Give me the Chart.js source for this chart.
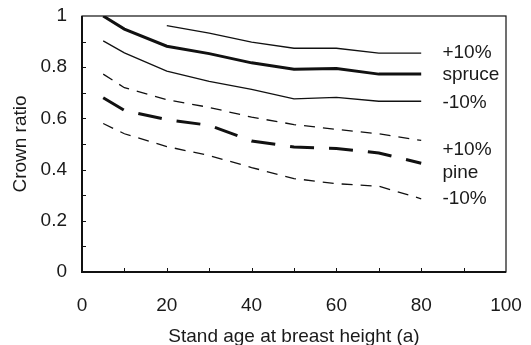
<!DOCTYPE html>
<html>
<head>
<meta charset="utf-8">
<title>Crown ratio</title>
<script src="https://cdn.jsdelivr.net/npm/chart.js@4/dist/chart.umd.min.js"></script>
<style>
  html, body { margin: 0; padding: 0; background: #fff; }
  #wrap { width: 531px; height: 345px; }
</style>
</head>
<body>
<div id="wrap"><canvas id="crownChart"></canvas></div>
<script>
// chart data
const ages = [5, 10, 20, 30, 40, 50, 60, 70, 80];
const spruce = [1.0, 0.949, 0.882, 0.853, 0.817, 0.792, 0.795, 0.773, 0.773];
const sprucePlus = [null, null, 0.962, 0.933, 0.898, 0.874, 0.874, 0.855, 0.855];
const spruceMinus = [0.903, 0.856, 0.785, 0.745, 0.713, 0.676, 0.682, 0.667, 0.667];
const pine = [0.681, 0.631, 0.595, 0.573, 0.512, 0.488, 0.482, 0.465, 0.425];
const pinePlus = [0.773, 0.72, 0.673, 0.643, 0.605, 0.576, 0.557, 0.54, 0.514];
const pineMinus = [0.58, 0.54, 0.49, 0.455, 0.408, 0.365, 0.345, 0.335, 0.286];

// text labels on the right of the lines
const labelTexts = ["+10%", "spruce", "-10%", "+10%", "pine", "-10%"];
const labelX = 85;
const labelY = [0.855, 0.769, 0.663, 0.476, 0.386, 0.287];

const xTicks = [0, 20, 40, 60, 80, 100];
const yTicks = [0, 0.2, 0.4, 0.6, 0.8, 1];

const FONT = "'Liberation Sans', Arial, sans-serif";
const FSIZE = 19;

function toPoints(values) {
  return ages.map((a, i) => ({ x: a, y: values[i] }));
}

function lineSet(label, values, width, dash) {
  return {
    label: label,
    data: toPoints(values),
    borderColor: "#111",
    borderWidth: width,
    borderDash: dash,
    pointRadius: 0,
    fill: false,
    tension: 0,
    spanGaps: false,
  };
}

// inner ticks, frame and line labels
const extrasPlugin = {
  id: "extras",
  afterDatasetsDraw(chart) {
    const ctx = chart.ctx;
    const area = chart.chartArea;
    const xs = chart.scales.x;
    const ys = chart.scales.y;
    ctx.save();
    ctx.strokeStyle = "#111";
    ctx.lineWidth = 1;
    for (let v = 10; v < 100; v += 10) {
      const px = Math.round(xs.getPixelForValue(v)) + 0.5;
      ctx.beginPath();
      ctx.moveTo(px, area.bottom);
      ctx.lineTo(px, area.bottom - 4);
      ctx.stroke();
    }
    for (let i = 1; i < 10; i++) {
      const py = Math.round(ys.getPixelForValue(i / 10)) + 0.5;
      ctx.beginPath();
      ctx.moveTo(area.left, py);
      ctx.lineTo(area.left + 4, py);
      ctx.stroke();
    }
    // frame
    ctx.lineWidth = 1.2;
    ctx.strokeRect(area.left, area.top, area.right - area.left, area.bottom - area.top);
    ctx.lineWidth = 2;
    ctx.beginPath();
    ctx.moveTo(area.left, area.top);
    ctx.lineTo(area.left, area.bottom);
    ctx.lineTo(area.right, area.bottom);
    ctx.stroke();

    // labels
    ctx.fillStyle = "#1a1a1a";
    ctx.font = FSIZE + "px " + FONT;
    ctx.textAlign = "left";
    ctx.textBaseline = "middle";
    labelTexts.forEach((t, i) => {
      ctx.fillText(t, xs.getPixelForValue(labelX), ys.getPixelForValue(labelY[i]));
    });
    ctx.restore();
  },
};

const ctx = document.getElementById("crownChart");

new Chart(ctx, {
  type: "line",
  data: {
    datasets: [
      lineSet("spruce +10%", sprucePlus, 1.3, []),
      lineSet("spruce", spruce, 3, []),
      lineSet("spruce -10%", spruceMinus, 1.3, []),
      lineSet("pine +10%", pinePlus, 1.3, [11, 8]),
      lineSet("pine", pine, 3, [24, 15]),
      lineSet("pine -10%", pineMinus, 1.3, [11, 8]),
    ],
  },
  options: {
    responsive: true,
    maintainAspectRatio: false,
    animation: false,
    layout: { padding: { left: 0, right: 25, top: 16, bottom: 0 } },
    plugins: {
      legend: { display: false },
      tooltip: { enabled: false },
    },
    scales: {
      x: {
        type: "linear",
        min: 0,
        max: 100,
        afterFit: function (scale) {
          scale.height = 73;
          scale.paddingLeft = 0;
          scale.paddingRight = 0;
        },
        afterBuildTicks: function (scale) {
          scale.ticks = xTicks.map((v) => ({ value: v }));
        },
        grid: { display: false, drawTicks: false },
        border: { display: false },
        ticks: {
          color: "#1a1a1a",
          padding: 22,
          maxRotation: 0,
          font: { size: FSIZE, family: FONT },
        },
        title: {
          display: true,
          text: "Stand age at breast height (a)",
          color: "#1a1a1a",
          font: { size: FSIZE, family: FONT },
          padding: { top: 0, bottom: -3 },
        },
      },
      y: {
        type: "linear",
        min: 0,
        max: 1,
        afterFit: function (scale) {
          scale.width = 82;
          scale.paddingTop = 0;
          scale.paddingBottom = 0;
        },
        afterBuildTicks: function (scale) {
          scale.ticks = yTicks.map((v) => ({ value: v }));
        },
        grid: { display: false, drawTicks: false },
        border: { display: false },
        ticks: {
          color: "#1a1a1a",
          padding: 15,
          font: { size: FSIZE, family: FONT },
          callback: function (value) {
            return String(Math.round(value * 10) / 10);
          },
        },
        title: {
          display: true,
          text: "Crown ratio",
          color: "#1a1a1a",
          font: { size: FSIZE, family: FONT },
          padding: { top: 9, bottom: 0 },
        },
      },
    },
  },
  plugins: [extrasPlugin],
});
</script>
</body>
</html>
